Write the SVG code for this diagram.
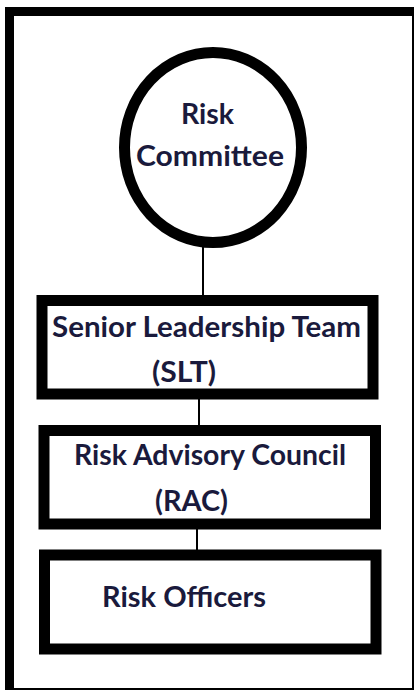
<svg xmlns="http://www.w3.org/2000/svg" width="414" height="690" viewBox="0 0 414 690">
<style>
.frame{fill:none;stroke:#000;stroke-width:9}
.node{fill:#fff;stroke:#000;stroke-width:11}
.conn{stroke:#000;stroke-width:2;fill:none}
.lbl{font-family:Lato,"Liberation Sans",Arial,sans-serif;font-weight:bold;font-size:28px;fill:#1a1a3c}
</style>
<rect x="0" y="0" width="414" height="690" fill="#fff"/>
<rect class="frame" x="9.5" y="11.5" width="407" height="681"/>
<g id="connectors">
<line class="conn" x1="203" y1="245" x2="203" y2="296"/>
<line class="conn" x1="199" y1="398" x2="199" y2="426"/>
<line class="conn" x1="197" y1="528" x2="197" y2="550"/>
</g>
<g id="risk-committee">
<ellipse class="node" cx="213" cy="147.5" rx="88.5" ry="95"/>
<text class="lbl" x="181" y="124" textLength="53" lengthAdjust="spacingAndGlyphs">Risk</text>
<text class="lbl" x="136" y="166" textLength="148" lengthAdjust="spacingAndGlyphs">Committee</text>
</g>
<g id="slt">
<rect class="node" x="42" y="300.5" width="331" height="93.5"/>
<text class="lbl" x="52" y="337" textLength="309" lengthAdjust="spacingAndGlyphs">Senior Leadership Team</text>
<text class="lbl" x="152" y="382" textLength="64" lengthAdjust="spacingAndGlyphs">(SLT)</text>
</g>
<g id="rac">
<rect class="node" x="44" y="430.5" width="331.5" height="93.5"/>
<text class="lbl" x="74" y="465" textLength="272" lengthAdjust="spacingAndGlyphs">Risk Advisory Council</text>
<text class="lbl" x="155" y="511" textLength="73" lengthAdjust="spacingAndGlyphs">(RAC)</text>
</g>
<g id="risk-officers">
<rect class="node" x="44.5" y="555" width="331.5" height="94"/>
<text class="lbl" x="102" y="607" textLength="164" lengthAdjust="spacingAndGlyphs">Risk Officers</text>
</g>
</svg>
